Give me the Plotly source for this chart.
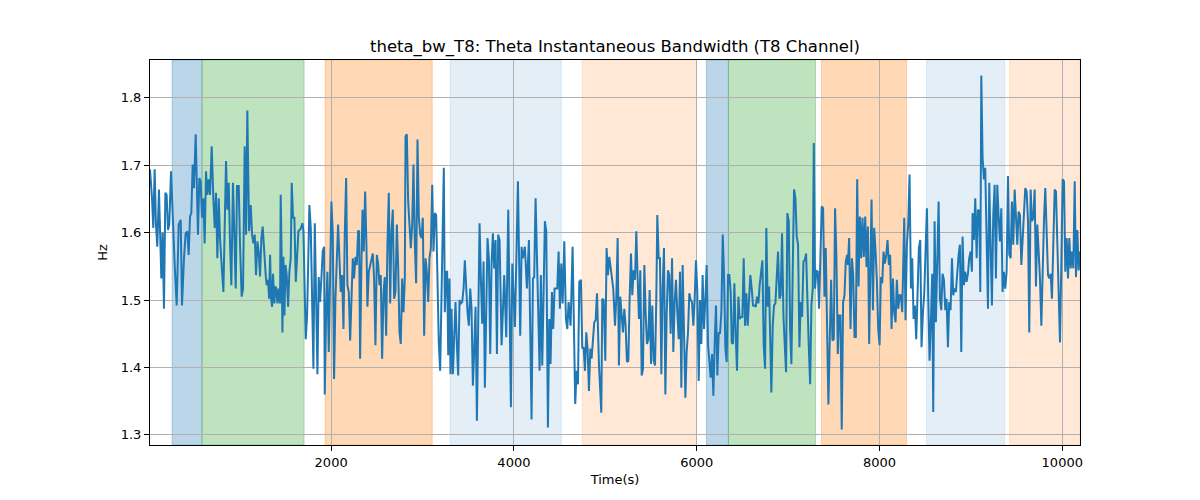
import plotly.graph_objects as go

time_s = [
    18, 40, 54, 69, 83, 98, 116, 131, 142, 156, 171, 186, 200, 215, 229, 248, 266, 288, 310, 332,
    354, 368, 390, 408, 426, 441, 456, 470, 485, 499, 518, 529, 543, 558, 572, 587, 602, 616, 631, 645,
    660, 675, 693, 711, 726, 740, 755, 770, 784, 802, 821, 835, 850, 864, 879, 894, 908, 926, 941, 956,
    970, 989, 1003, 1021, 1036, 1054, 1069, 1083, 1102, 1120, 1135, 1149, 1164, 1178, 1193, 1207, 1222, 1237, 1251, 1266,
    1284, 1295,
    1310, 1321, 1332, 1343, 1354, 1364, 1379, 1390, 1401, 1412, 1427, 1441, 1448, 1459, 1467, 1478, 1489, 1500, 1514, 1529,
    1543, 1558, 1569, 1583, 1598, 1613, 1627, 1642, 1656, 1671, 1686, 1697, 1711, 1722, 1737, 1751, 1762, 1777, 1792, 1806,
    1821, 1835, 1850, 1864, 1879, 1894, 1908, 1923, 1930, 1945, 1959, 1974, 1989, 2003, 2018, 2032, 2047, 2062, 2076, 2091,
    2105, 2120, 2135, 2149, 2164, 2178, 2193, 2208, 2222, 2237, 2251, 2266, 2281, 2295, 2306, 2317, 2332, 2343, 2357, 2372,
    2386, 2397, 2412, 2427, 2441, 2456, 2470, 2485, 2500, 2514, 2529, 2543, 2558, 2573,
    2587, 2602, 2616, 2631, 2646, 2660, 2675, 2689, 2704, 2719, 2733, 2748, 2762, 2777, 2792, 2806, 2814, 2828, 2843, 2857,
    2872, 2887, 2901, 2916, 2930, 2945, 2960, 2974, 2989, 3003, 3018, 3033, 3047, 3062, 3076, 3091, 3106, 3120, 3135, 3149,
    3164, 3178, 3193, 3208, 3222, 3233, 3244, 3259, 3270, 3281, 3295, 3306, 3317, 3332, 3346, 3361, 3376, 3390, 3405, 3419,
    3434, 3449, 3463, 3478, 3492, 3507, 3522, 3536, 3551, 3565, 3580, 3595, 3609, 3624, 3638, 3653, 3668, 3682, 3697, 3711,
    3726, 3741, 3755, 3770, 3784, 3799, 3814, 3828,
    3843, 3865, 3894, 3916, 3938, 3967, 3982, 4011, 4044, 4069, 4084, 4098, 4120, 4142, 4164, 4193, 4208, 4222, 4237, 4259,
    4281, 4295, 4310, 4339, 4354, 4372, 4387, 4401, 4416, 4430, 4445, 4474, 4489, 4503, 4518, 4533, 4551, 4569, 4584, 4598,
    4620, 4642, 4657, 4671, 4686, 4701, 4715, 4733, 4748, 4763, 4777, 4792, 4806, 4821, 4836, 4850, 4879, 4894, 4909, 4931,
    4956, 4967, 4982, 5000, 5014, 5029, 5044, 5066, 5087, 5106,
    5120, 5135, 5149, 5164, 5179, 5193, 5208, 5222, 5237, 5252, 5266, 5281, 5295, 5310, 5325, 5339, 5354, 5368, 5383, 5398,
    5412, 5427, 5441, 5456, 5471, 5485, 5500, 5514, 5529, 5544, 5558, 5569, 5584, 5598, 5613, 5627, 5642, 5657, 5671, 5686,
    5700, 5715, 5730, 5744, 5759, 5773, 5788, 5803, 5817, 5832, 5846, 5861, 5876, 5890, 5905, 5919, 5934, 5949, 5963, 5978,
    5992, 6007, 6022, 6036, 6051, 6065, 6080, 6095, 6109, 6124, 6138, 6153, 6168, 6182, 6197, 6211, 6226, 6241, 6255, 6270,
    6285, 6299, 6314, 6328, 6343, 6357, 6372,
    6383, 6397, 6412, 6427, 6441, 6456, 6470, 6485, 6500, 6514, 6529, 6543, 6558, 6573, 6587, 6602, 6616, 6631, 6646, 6660,
    6675, 6689, 6704, 6719, 6733, 6748, 6762, 6777, 6792, 6806, 6817, 6832, 6846, 6861, 6876, 6890, 6905, 6919, 6934, 6949,
    6963, 6978, 6992, 7007, 7022, 7036, 7051, 7065, 7080, 7095, 7109, 7124, 7138, 7153, 7168, 7182, 7197, 7211, 7226, 7241,
    7255, 7270, 7281, 7295, 7310, 7325, 7339, 7354, 7368, 7383, 7398, 7412, 7427, 7441, 7456, 7471, 7485, 7500, 7514, 7529,
    7544, 7558, 7573, 7587, 7602, 7617, 7631, 7646,
    7654, 7668, 7683, 7698, 7712, 7727, 7741, 7756, 7771, 7785, 7800, 7814, 7829, 7844, 7858, 7873, 7887, 7902, 7913, 7928,
    7942, 7957, 7971, 7986, 8001, 8015, 8030, 8044, 8059, 8074, 8088, 8103, 8117, 8132, 8147, 8161, 8176, 8190, 8205, 8220,
    8234, 8249, 8263, 8271, 8285, 8300, 8314, 8329, 8344, 8358, 8373, 8387, 8402, 8417, 8431, 8446, 8460, 8475, 8490, 8504,
    8519, 8533, 8548, 8563, 8577, 8588, 8603, 8617, 8632, 8647, 8661, 8676, 8690, 8705, 8720, 8734, 8749, 8763, 8778, 8793,
    8807, 8822, 8836, 8851, 8866, 8880, 8895, 8909,
    8924, 8938, 8953, 8968, 8982, 8997, 9011, 9019, 9033, 9048, 9063, 9077, 9092, 9103, 9114, 9128, 9143, 9157, 9172, 9187,
    9201, 9216, 9230, 9245, 9260, 9274, 9289, 9303, 9318, 9333, 9347, 9362, 9376, 9391, 9406, 9420, 9435, 9449, 9464, 9479,
    9493, 9508, 9522, 9537, 9552, 9566, 9581, 9595, 9610, 9625, 9639, 9654, 9668, 9683, 9698, 9712, 9727, 9741, 9756, 9771,
    9785, 9800, 9814, 9829, 9844, 9858, 9873, 9887, 9902, 9917, 9931, 9946, 9960, 9975, 9990, 10004, 10019, 10033, 10048, 10063,
    10077, 10092, 10106, 10121, 10136, 10150, 10165, 10179, 10194,
]

theta_bw = [
    1.694, 1.651, 1.607, 1.694, 1.612, 1.579, 1.664, 1.582, 1.532, 1.600, 1.487, 1.659, 1.656, 1.604, 1.612, 1.691, 1.622, 1.552, 1.492, 1.612,
    1.619, 1.492, 1.562, 1.599, 1.602, 1.567, 1.624, 1.629, 1.701, 1.666, 1.746, 1.666, 1.597, 1.681, 1.676, 1.622, 1.651, 1.584, 1.691, 1.656,
    1.679, 1.656, 1.728, 1.651, 1.607, 1.659, 1.562, 1.651, 1.592, 1.552, 1.512, 1.607, 1.706, 1.634, 1.674, 1.582, 1.522, 1.674, 1.582, 1.517,
    1.669, 1.669, 1.582, 1.505, 1.517, 1.728, 1.597, 1.781, 1.602, 1.641, 1.597, 1.584, 1.597, 1.537, 1.587, 1.572, 1.535, 1.592, 1.609, 1.572,
    1.537, 1.522,
    1.530, 1.502, 1.567, 1.502, 1.490, 1.539, 1.495, 1.520, 1.517, 1.495, 1.517, 1.495, 1.656, 1.562, 1.452, 1.564, 1.477, 1.552, 1.537, 1.490,
    1.542, 1.562, 1.674, 1.622, 1.622, 1.527, 1.572, 1.602, 1.604, 1.607, 1.614, 1.602, 1.512, 1.442, 1.477, 1.572, 1.641, 1.607, 1.502, 1.398,
    1.614, 1.512, 1.390, 1.534, 1.497, 1.534, 1.572, 1.579, 1.360, 1.482, 1.542, 1.423, 1.517, 1.646, 1.597, 1.383, 1.502, 1.557, 1.612, 1.562,
    1.512, 1.537, 1.457, 1.597, 1.681, 1.522, 1.512, 1.440, 1.512, 1.562, 1.532, 1.564, 1.552, 1.602, 1.602, 1.413, 1.559, 1.634, 1.572, 1.661,
    1.582, 1.490, 1.542, 1.552, 1.562, 1.569, 1.532, 1.433, 1.567, 1.554, 1.522, 1.537, 1.413, 1.510,
    1.534, 1.447, 1.582, 1.659, 1.495, 1.602, 1.634, 1.502, 1.512, 1.612, 1.552, 1.452, 1.435, 1.532, 1.482, 1.532, 1.743, 1.746, 1.646, 1.602,
    1.577, 1.612, 1.701, 1.582, 1.525, 1.738, 1.622, 1.597, 1.592, 1.622, 1.447, 1.562, 1.542, 1.497, 1.562, 1.577, 1.671, 1.572, 1.629, 1.626,
    1.502, 1.437, 1.395, 1.512, 1.641, 1.696, 1.482, 1.542, 1.542, 1.418, 1.532, 1.390, 1.487, 1.390, 1.442, 1.497, 1.433, 1.388, 1.500, 1.495,
    1.497, 1.517, 1.559, 1.517, 1.482, 1.462, 1.517, 1.487, 1.373, 1.425, 1.490, 1.321, 1.447, 1.614, 1.534, 1.465, 1.557, 1.370, 1.482, 1.592,
    1.562, 1.420, 1.552, 1.599, 1.547, 1.589, 1.420, 1.597,
    1.589, 1.433, 1.537, 1.445, 1.634, 1.341, 1.554, 1.460, 1.676, 1.447, 1.579, 1.562, 1.579, 1.517, 1.589, 1.323, 1.532, 1.534, 1.651, 1.532,
    1.395, 1.537, 1.403, 1.617, 1.602, 1.311, 1.472, 1.405, 1.512, 1.457, 1.517, 1.517, 1.572, 1.487, 1.554, 1.495, 1.587, 1.472, 1.457, 1.497,
    1.462, 1.579, 1.428, 1.346, 1.395, 1.375, 1.527, 1.530, 1.428, 1.430, 1.395, 1.452, 1.428, 1.365, 1.428, 1.413, 1.467, 1.470, 1.510, 1.403,
    1.333, 1.502, 1.500, 1.410, 1.577, 1.537, 1.564, 1.537, 1.517, 1.462,
    1.502, 1.592, 1.403, 1.505, 1.482, 1.452, 1.487, 1.462, 1.408, 1.410, 1.502, 1.569, 1.507, 1.544, 1.530, 1.602, 1.532, 1.472, 1.544, 1.388,
    1.398, 1.552, 1.482, 1.435, 1.442, 1.515, 1.405, 1.492, 1.410, 1.403, 1.502, 1.626, 1.562, 1.562, 1.390, 1.517, 1.577, 1.360, 1.477, 1.544,
    1.537, 1.450, 1.562, 1.423, 1.497, 1.530, 1.480, 1.442, 1.542, 1.370, 1.552, 1.442, 1.355, 1.423, 1.452, 1.510, 1.500, 1.497, 1.462, 1.502,
    1.559, 1.512, 1.380, 1.500, 1.435, 1.537, 1.457, 1.502, 1.552, 1.433, 1.408, 1.385, 1.420, 1.358, 1.437, 1.492, 1.388, 1.452, 1.450, 1.482,
    1.597, 1.537, 1.428, 1.408, 1.537, 1.537, 1.512,
    1.437, 1.435, 1.525, 1.447, 1.395, 1.505, 1.472, 1.475, 1.475, 1.562, 1.462, 1.510, 1.462, 1.502, 1.537, 1.517, 1.492, 1.492, 1.490, 1.505,
    1.495, 1.522, 1.542, 1.559, 1.433, 1.398, 1.607, 1.490, 1.520, 1.433, 1.363, 1.462, 1.492, 1.495, 1.532, 1.572, 1.502, 1.507, 1.599, 1.477,
    1.435, 1.393, 1.629, 1.617, 1.457, 1.405, 1.547, 1.664, 1.651, 1.594, 1.582, 1.430, 1.497, 1.475, 1.557, 1.559, 1.569, 1.517, 1.433, 1.375,
    1.492, 1.517, 1.733, 1.517, 1.544, 1.542, 1.487, 1.567, 1.639, 1.636, 1.505, 1.577, 1.442, 1.345, 1.442, 1.530, 1.440, 1.442, 1.636, 1.562,
    1.420, 1.477, 1.477, 1.308, 1.497, 1.507, 1.557, 1.567,
    1.552, 1.592, 1.457, 1.562, 1.537, 1.445, 1.445, 1.679, 1.520, 1.624, 1.562, 1.622, 1.564, 1.624, 1.549, 1.609, 1.435, 1.557, 1.649, 1.485,
    1.607, 1.572, 1.530, 1.457, 1.433, 1.534, 1.525, 1.572, 1.554, 1.567, 1.589, 1.552, 1.567, 1.457, 1.532, 1.482, 1.467, 1.530, 1.487, 1.507,
    1.507, 1.482, 1.557, 1.622, 1.470, 1.582, 1.612, 1.686, 1.517, 1.562, 1.472, 1.492, 1.442, 1.517, 1.577, 1.589, 1.430, 1.480, 1.510, 1.572,
    1.636, 1.507, 1.410, 1.472, 1.539, 1.334, 1.617, 1.467, 1.539, 1.646, 1.502, 1.485, 1.539, 1.530, 1.485, 1.502, 1.430, 1.497, 1.485, 1.562,
    1.507, 1.517, 1.512, 1.547, 1.567, 1.582, 1.423, 1.594,
    1.522, 1.542, 1.527, 1.539, 1.562, 1.572, 1.542, 1.629, 1.589, 1.651, 1.562, 1.634, 1.631, 1.512, 1.833, 1.711, 1.679, 1.696, 1.567, 1.487,
    1.674, 1.582, 1.492, 1.626, 1.671, 1.532, 1.671, 1.626, 1.587, 1.636, 1.512, 1.542, 1.517, 1.542, 1.684, 1.567, 1.562, 1.646, 1.582, 1.664,
    1.617, 1.582, 1.631, 1.626, 1.552, 1.597, 1.631, 1.666, 1.661, 1.617, 1.452, 1.664, 1.617, 1.622, 1.664, 1.520, 1.612, 1.572, 1.532, 1.462,
    1.567, 1.619, 1.666, 1.592, 1.537, 1.532, 1.539, 1.502, 1.607, 1.664, 1.661, 1.577, 1.507, 1.437, 1.557, 1.679, 1.676, 1.542, 1.592, 1.532,
    1.592, 1.547, 1.572, 1.547, 1.676, 1.534, 1.604, 1.544, 1.572,
]

span_start = [260, 587, 1934, 3303, 4748, 6106, 6347, 7365, 8515, 9424]
span_end = [587, 1704, 3106, 4519, 5997, 6347, 7300, 8296, 9369, 10194]
span_rgb = ["31,119,180", "44,160,44", "255,127,14", "31,119,180", "255,127,14",
            "31,119,180", "44,160,44", "255,127,14", "31,119,180", "255,127,14"]
span_alpha = [0.3, 0.3, 0.3, 0.12, 0.17, 0.3, 0.3, 0.3, 0.12, 0.17]

x_ticks = [2000, 4000, 6000, 8000, 10000]
x_tick_labels = ["2000", "4000", "6000", "8000", "10000"]
y_ticks = [1.3, 1.4, 1.5, 1.6, 1.7, 1.8]

FONT = "DejaVu Sans"

fig = go.Figure()
fig.add_trace(go.Scatter(x=time_s, y=theta_bw, mode="lines",
                         line=dict(color="#1f77b4", width=2), showlegend=False))

for s, e, c, a in zip(span_start, span_end, span_rgb, span_alpha):
    fig.add_shape(type="rect", xref="x", yref="paper", x0=s, x1=e, y0=0, y1=1,
                  fillcolor=f"rgba({c},{a})", line=dict(color=f"rgba({c},{a})", width=1),
                  layer="below")

axis_common = dict(showgrid=True, gridcolor="#b0b0b0", gridwidth=1, showline=True,
                   linecolor="black", linewidth=1, mirror=True, ticks="outside",
                   ticklen=5, tickcolor="black", tickwidth=1, zeroline=False,
                   tickfont=dict(family=FONT, size=13, color="black"))

fig.update_layout(
    width=1200, height=500,
    margin=dict(l=150, r=120, t=60, b=55),
    paper_bgcolor="white", plot_bgcolor="white",
    font=dict(family=FONT, color="black"),
    title=dict(text="theta_bw_T8: Theta Instantaneous Bandwidth (T8 Channel)",
               font=dict(family=FONT, size=16.5, color="black"),
               x=0.5, xref="paper", xanchor="center",
               y=1 - 46 / 500, yref="container", yanchor="middle"),
    xaxis=dict(range=[18, 10194], tickvals=x_ticks, ticktext=x_tick_labels,
               title=dict(text="Time(s)", font=dict(family=FONT, size=13), standoff=6),
               **axis_common),
    yaxis=dict(range=[1.285, 1.856], tickvals=y_ticks, tickformat=".1f",
               title=dict(text="Hz", font=dict(family=FONT, size=13), standoff=10),
               **axis_common),
)

fig.write_html("out.html")
